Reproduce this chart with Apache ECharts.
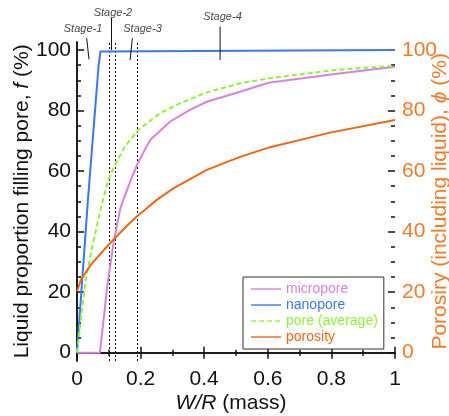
<!DOCTYPE html>
<html><head><meta charset="utf-8">
<script src="https://cdn.jsdelivr.net/npm/echarts@6/dist/echarts.min.js"></script>
<style>html,body{margin:0;padding:0;background:#fff}#c{width:449px;height:416px}</style>
</head><body><div id="c"></div>
<script>
// ---- data ----
const nanoX  = [0, 0.034, 0.068, 0.074, 0.08, 1.0];
const nanoY  = [0, 50, 95, 99.5, 100, 100];
const microX = [0, 0.072, 0.089, 0.095, 0.116, 0.137, 0.151, 0.169, 0.193, 0.23, 0.292, 0.355, 0.408, 0.513, 0.602, 0.811, 1.0];
const microY = [0, 0, 16, 22, 37, 48, 52, 57, 63, 70.3, 76.3, 80.2, 82.9, 86.2, 89.2, 92.1, 94.5];
const poreX  = [0, 0.012, 0.027, 0.048, 0.078, 0.098, 0.117, 0.15, 0.193, 0.261, 0.324, 0.408, 0.513, 0.602, 0.811, 1.0];
const poreY  = [0, 10.8, 24, 35, 49, 57, 61.5, 68, 73.6, 79.1, 82.4, 86, 89, 90.6, 93.4, 94.8];
const poroX  = [0, 0.012, 0.043, 0.085, 0.116, 0.158, 0.193, 0.211, 0.25, 0.303, 0.408, 0.513, 0.607, 0.796, 1.0];
const poroY  = [20.2, 24, 29, 34, 37.5, 42, 45.5, 47, 50.4, 54.3, 60.4, 64.7, 67.9, 72.7, 76.9];
const seriesNames = ['micropore', 'nanopore', 'pore (average)', 'porosity'];
const stageBoundX = [0.098, 0.117, 0.193];
const stageNames  = ['Stage-1', 'Stage-2', 'Stage-3', 'Stage-4'];
const stageTextX  = [0.019, 0.113, 0.206, 0.4575];
const stageTextY  = [106.9, 112.2, 106.9, 110.9];
const leaderX0 = [0.0305, 0.1085, 0.174, 0.450];
const leaderY0 = [103.9, 110.6, 103.9, 107.7];
const leaderX1 = [0.0377, 0.1085, 0.167, 0.450];
const leaderY1 = [96.9, 100.0, 96.7, 96.7];

const zip = (xs, ys) => xs.map((x, i) => [x, ys[i]]);
const FONT = 'Liberation Sans, Arial, sans-serif';
const C_MICRO = '#d982dd', C_NANO = '#3a78f2', C_PORE = '#8ff23a', C_PORO = '#ef6714', C_AX2 = '#f27a2a';

const chart = echarts.init(document.getElementById('c'), null, {renderer: 'canvas'});

const lineSeries = (name, data, color, dashed) => ({
  name, type: 'line', xAxisIndex: 2, yAxisIndex: 2, data, showSymbol: false, symbol: 'none',
  clip: false, animation: false, z: 5,
  lineStyle: {color, width: 2, type: dashed ? [5, 3] : 'solid'},
  itemStyle: {color}
});

const leaders = stageNames.map((n, i) => ({
  type: 'line', xAxisIndex: 2, yAxisIndex: 2, clip: false, symbol: 'none', silent: true, animation: false,
  data: [[leaderX0[i], leaderY0[i]], [leaderX1[i], leaderY1[i]]],
  lineStyle: {color: '#111', width: 1}, z: 6
}));

const option = {
  animation: false,
  backgroundColor: '#fff',
  textStyle: {fontFamily: FONT},
  grid: [
    {left: 77, right: 54, top: 42, bottom: 55, outerBoundsMode: 'none', containLabel: false},
    {left: 77, right: 54, top: 50, bottom: 63.3, outerBoundsMode: 'none', containLabel: false}
  ],
  xAxis: [
    {gridIndex: 0, type: 'value', min: 0, max: 1, interval: 0.2, position: 'bottom',
     axisLine: {show: true, lineStyle: {color: '#111', width: 1.5}},
     axisTick: {show: true, inside: true, length: 6, lineStyle: {color: '#111', width: 1.5}},
     minorTick: {show: true, splitNumber: 2, length: 3, lineStyle: {color: '#111', width: 1.5}},
     axisLabel: {fontSize: 21, color: '#111', margin: 8, fontFamily: FONT},
     splitLine: {show: false},
     name: '{i|W/R}{a| (mass)}', nameLocation: 'middle', nameGap: 32, nameMoveOverlap: false,
     nameTextStyle: {padding: [0, 10, 0, 0], rich: {
       i: {fontSize: 21, fontStyle: 'italic', color: '#111', fontFamily: FONT},
       a: {fontSize: 21, color: '#111', fontFamily: FONT}}}},
    {gridIndex: 0, type: 'value', min: 0, max: 1, interval: 0.2, position: 'top',
     axisLine: {show: true, lineStyle: {color: '#111', width: 1.5}},
     axisTick: {show: true, inside: true, length: 6, lineStyle: {color: '#111', width: 1.5}},
     minorTick: {show: true, splitNumber: 2, length: 3, lineStyle: {color: '#111', width: 1.5}},
     axisLabel: {show: false}, splitLine: {show: false}},
    {gridIndex: 1, type: 'value', min: 0, max: 1, show: false}
  ],
  yAxis: [
    {gridIndex: 0, type: 'value', min: -2.74, max: 102.67, position: 'left',
     axisLine: {show: true, lineStyle: {color: '#111', width: 1.5}},
     axisTick: {show: false}, axisLabel: {show: false}, splitLine: {show: false}},
    {gridIndex: 0, type: 'value', min: -2.74, max: 102.67, position: 'right',
     axisLine: {show: true, lineStyle: {color: '#111', width: 1.5}},
     axisTick: {show: false}, axisLabel: {show: false}, splitLine: {show: false}},
    {gridIndex: 1, type: 'value', min: 0, max: 100, interval: 20, position: 'left',
     axisLine: {show: false},
     axisTick: {show: true, inside: true, length: 7, lineStyle: {color: '#111', width: 1.5}},
     minorTick: {show: true, splitNumber: 4, length: 4, lineStyle: {color: '#111', width: 1.5}},
     axisLabel: {fontSize: 21, color: '#111', margin: 6, fontFamily: FONT},
     splitLine: {show: false},
     name: '{a|Liquid proportion filling pore, }{i|f}{a| (%)}', nameLocation: 'middle', nameGap: 44, nameRotate: 90,
     nameMoveOverlap: false,
     nameTextStyle: {rich: {
       i: {fontSize: 21, fontStyle: 'italic', color: '#111', fontFamily: FONT},
       a: {fontSize: 21, color: '#111', fontFamily: FONT}}}},
    {gridIndex: 1, type: 'value', min: 0, max: 100, interval: 20, position: 'right',
     axisLine: {show: false},
     axisTick: {show: true, inside: true, length: 7, lineStyle: {color: '#111', width: 1.5}},
     minorTick: {show: true, splitNumber: 4, length: 4, lineStyle: {color: '#111', width: 1.5}},
     axisLabel: {fontSize: 21, color: C_AX2, margin: 7, fontFamily: FONT},
     splitLine: {show: false},
     name: '{a|Porosiry (including liquid), }{i|ϕ}{a| (%)}', nameLocation: 'middle', nameGap: 35, nameRotate: 90,
     nameMoveOverlap: false,
     nameTextStyle: {rich: {
       i: {fontSize: 21, fontStyle: 'italic', color: C_AX2, fontFamily: FONT},
       a: {fontSize: 21, color: C_AX2, fontFamily: FONT}}}}
  ],
  legend: {
    left: 243, top: 277, orient: 'vertical', itemWidth: 30, itemHeight: 14, itemGap: 2,
    padding: [5, 6, 5, 7], borderColor: '#333', borderWidth: 1, backgroundColor: '#fff',
    itemStyle: {opacity: 0},
    lineStyle: {opacity: 0.7},
    data: seriesNames,
    formatter: n => '{' + ['m', 'n', 'p', 'o'][seriesNames.indexOf(n)] + '|' + n + '}',
    textStyle: {fontSize: 14, fontFamily: FONT, rich: {
      m: {color: C_MICRO, fontSize: 14, fontFamily: FONT},
      n: {color: C_NANO, fontSize: 14, fontFamily: FONT},
      p: {color: C_PORE, fontSize: 14, fontFamily: FONT},
      o: {color: C_PORO, fontSize: 14, fontFamily: FONT}}}
  },
  series: [
    {type: 'line', xAxisIndex: 0, yAxisIndex: 0, data: [], silent: true, animation: false,
     markLine: {silent: true, symbol: 'none', label: {show: false},
       lineStyle: {color: '#111', width: 1, type: [2, 2]},
       data: stageBoundX.map(x => ({xAxis: x}))}},
    lineSeries(seriesNames[0], zip(microX, microY), C_MICRO, false),
    lineSeries(seriesNames[1], zip(nanoX, nanoY), C_NANO, false),
    lineSeries(seriesNames[2], zip(poreX, poreY), C_PORE, true),
    lineSeries(seriesNames[3], zip(poroX, poroY), C_PORO, false),
    ...leaders,
    {type: 'scatter', xAxisIndex: 2, yAxisIndex: 2, clip: false, symbolSize: 1, silent: true, animation: false,
     itemStyle: {color: 'rgba(0,0,0,0)'},
     data: stageNames.map((n, i) => ({name: n, value: [stageTextX[i], stageTextY[i]]})),
     label: {show: true, position: 'inside', formatter: p => p.name, color: '#111',
       fontSize: 11, fontStyle: 'italic', fontFamily: FONT}}
  ]
};
chart.setOption(option);
</script></body></html>
